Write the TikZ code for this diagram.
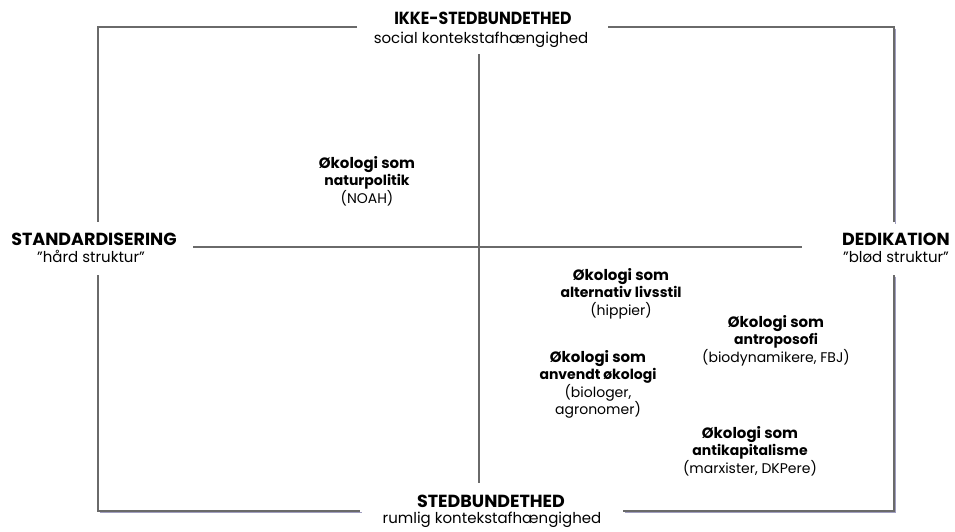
\documentclass[tikz,border=0pt]{standalone}
\usepackage{fontspec}
\setmainfont{Poppins}
\definecolor{linegray}{HTML}{6A6A6A}
\definecolor{shadowc}{HTML}{A09EC0}
\begin{document}
\begin{tikzpicture}[x=1pt,y=-1pt,
  frameline/.style={draw=linegray, line width=1.6pt},
  shadowline/.style={draw=shadowc, line width=1.6pt},
  axisline/.style={draw=linegray, line width=1.4pt},
  head/.style={font=\fontsize{17.5}{18}\selectfont\bfseries, anchor=base, inner sep=0pt},
  sub/.style={font=\fontsize{15}{18}\selectfont, anchor=base, inner sep=0pt},
  cat/.style={align=center, font=\fontsize{14}{17.5}\selectfont, anchor=north, inner sep=0pt},
  bt/.style={font=\fontsize{15}{17.5}\selectfont\bfseries}]
\useasboundingbox[fill=white] (0,0) rectangle (955,531);
% frame corners and gap ends
\coordinate (tl) at (98,27);
\coordinate (tr) at (894,27);
\coordinate (br) at (894,511);
\coordinate (bl) at (98,511);
\coordinate (t1) at (357,27);
\coordinate (t2) at (608,27);
\coordinate (b1) at (360,511);
\coordinate (b2) at (623,511);
\coordinate (l1) at (98,222);
\coordinate (l2) at (98,275);
\coordinate (r1) at (894,222);
\coordinate (r2) at (894,275);
% shadow
\draw[shadowline] ([shift={(1.5,1.5)}]tr) -- ([shift={(1.5,1.5)}]r1);
\draw[shadowline] ([shift={(1.5,1.5)}]r2) -- ([shift={(1.5,1.5)}]br) -- ([shift={(1.5,1.5)}]b2);
\draw[shadowline] ([shift={(1.5,1.5)}]b1) -- ([shift={(1.5,1.5)}]bl);
% frame
\draw[frameline] (t1) -- (tl) -- (l1);
\draw[frameline] (l2) -- (bl) -- (b1);
\draw[frameline] (b2) -- (br) -- (r2);
\draw[frameline] (r1) -- (tr) -- (t2);
% axes
\coordinate (vtop) at (479,54);
\coordinate (vbot) at (479,483);
\coordinate (hl) at (193,247);
\coordinate (hr) at (802,247);
\draw[axisline] (vtop) -- (vbot);
\draw[axisline] (hl) -- (hr);
% axis labels
\node[head] (top) at (483,24) {\scalebox{0.9}[1]{IKKE-STEDBUNDETHED}};
\node[sub] (topsub) at (481,43) {social kontekstafhængighed};
\node[head] (left) at (94,245) {STANDARDISERING};
\node[sub] (leftsub) at (91,262) {”hård struktur”};
\node[head] (right) at (896,245) {DEDIKATION};
\node[sub] (rightsub) at (896,262) {”blød struktur”};
\node[head] (bot) at (491,507) {STEDBUNDETHED};
\node[sub] (botsub) at (492,523) {rumlig kontekstafhængighed};
% categories
\node[cat] (natur) at (367,156) {{\bfseries\fontsize{15}{17.5}\selectfont Økologi som}\\{\bfseries naturpolitik}\\(NOAH)};
\node[cat] (alt) at (621,268) {{\bfseries\fontsize{15}{17.5}\selectfont Økologi som}\\{\bfseries alternativ livsstil}\\(hippier)};
\node[cat] (antro) at (776,315) {{\bfseries\fontsize{15}{17.5}\selectfont Økologi som}\\{\bfseries antroposofi}\\(biodynamikere, FBJ)};
\node[cat] (anv) at (598,350) {{\bfseries\fontsize{15}{17.5}\selectfont Økologi som}\\{\bfseries anvendt økologi}\\(biologer,\\agronomer)};
\node[cat] (kap) at (750,426) {{\bfseries\fontsize{15}{17.5}\selectfont Økologi som}\\{\bfseries antikapitalisme}\\(marxister, DKPere)};
\end{tikzpicture}
\end{document}
